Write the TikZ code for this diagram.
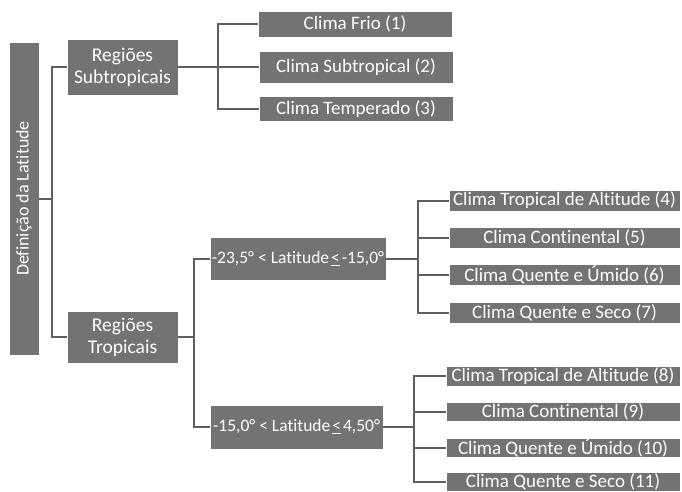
\documentclass[tikz,border=0pt]{standalone}
\usepackage{fontspec}
\setmainfont{Carlito}[Ligatures=NoCommon]
\definecolor{boxgray}{RGB}{115,115,115}
\definecolor{linegray}{RGB}{95,95,95}
\tikzset{
  gbox/.style={fill=boxgray, draw=white, line width=0.6pt, text=white, inner sep=0pt, font=\fontsize{19}{21}\selectfont, align=center},
  conn/.style={draw=linegray, line width=2pt}
}
\begin{document}
\begin{tikzpicture}[x=1pt,y=-1pt]
\useasboundingbox (0,0) rectangle (682,491);
% root
\node[gbox, rotate=90, minimum width=313pt, minimum height=30pt, font=\fontsize{18}{20}\selectfont] (root) at (24,198.5) {Definição da Latitude};
% level 1
\node[gbox, minimum width=111pt, minimum height=56pt, font=\fontsize{19.5}{22}\selectfont] (sub) at (122.5,67) {Regiões\\Subtropicais};
\node[gbox, minimum width=111pt, minimum height=52pt, font=\fontsize{19.5}{22}\selectfont] (trop) at (122.5,337) {Regiões\\Tropicais};
% subtropical climates
\node[gbox, minimum width=194pt, minimum height=26pt] (c1) at (355,24) {Clima Frio (1)};
\node[gbox, minimum width=194pt, minimum height=32pt] (c2) at (356,67) {Clima Subtropical (2)};
\node[gbox, minimum width=194pt, minimum height=25pt] (c3) at (356,109) {Clima Temperado (3)};
% latitude bands
\node[gbox, minimum width=176pt, minimum height=43pt, font=\fontsize{17.5}{20}\selectfont] (t1) at (298,258.5) {-23,5° < Latitude\kern2pt\underline{<}\kern2pt-15,0°};
\node[gbox, minimum width=173pt, minimum height=44pt, font=\fontsize{17.5}{20}\selectfont] (t2) at (296.5,427) {-15,0° < Latitude\kern2pt\underline{<}\kern2pt4,50°};
% band 1 climates
\node[gbox, minimum width=231pt, minimum height=21pt] (c4) at (564.5,200.5) {Clima Tropical de Altitude (4)};
\node[gbox, minimum width=231pt, minimum height=21pt] (c5) at (564.5,237.5) {Clima Continental (5)};
\node[gbox, minimum width=231pt, minimum height=21pt] (c6) at (564.5,275) {Clima Quente e Úmido (6)};
\node[gbox, minimum width=231pt, minimum height=21pt] (c7) at (564.5,313) {Clima Quente e Seco (7)};
% band 2 climates
\node[gbox, minimum width=234pt, minimum height=20pt] (c8) at (563,376) {Clima Tropical de Altitude (8)};
\node[gbox, minimum width=234pt, minimum height=19pt] (c9) at (563,412) {Clima Continental (9)};
\node[gbox, minimum width=234pt, minimum height=19pt] (c10) at (563,447.5) {Clima Quente e Úmido (10)};
\node[gbox, minimum width=234pt, minimum height=19pt] (c11) at (563,481.5) {Clima Quente e Seco (11)};
% connectors
\draw[conn] (root.south) -- ++(12.5,0) |- (sub.west);
\draw[conn] (root.south) -- ++(12.5,0) |- (trop.west);
\foreach \c in {c1,c2,c3} \draw[conn] (sub.east) -- ++(40,0) |- (\c.west);
\foreach \c in {t1,t2} \draw[conn] (trop.east) -- ++(16,0) |- (\c.west);
\foreach \c in {c4,c5,c6,c7} \draw[conn] (t1.east) -- ++(32,0) |- (\c.west);
\foreach \c in {c8,c9,c10,c11} \draw[conn] (t2.east) -- ++(31,0) |- (\c.west);
\end{tikzpicture}
\end{document}
